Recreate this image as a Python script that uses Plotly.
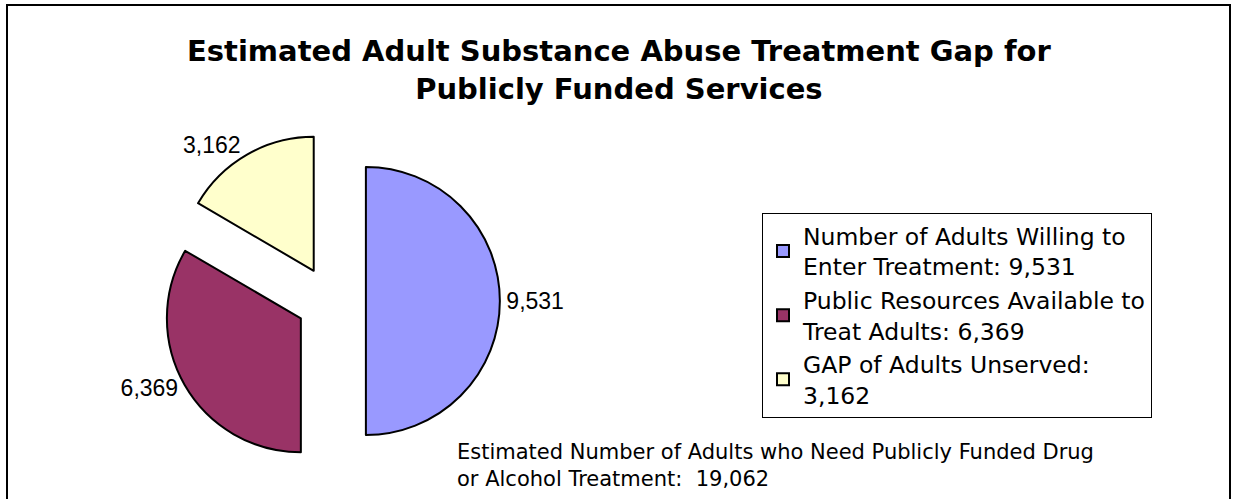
import plotly.graph_objects as go

# Treatment gap figures (adults)
categories = [
    "Number of Adults Willing to<br>Enter Treatment: 9,531",
    "Public Resources Available to<br>Treat Adults: 6,369",
    "GAP of Adults Unserved:<br>3,162",
]
values = [9531, 6369, 3162]
slice_colors = ["#9999FF", "#993366", "#FFFFCC"]
total_need = 19062

W, H = 1233, 499

fig = go.Figure(
    go.Pie(
        labels=categories,
        values=values,
        sort=False,
        direction="clockwise",
        rotation=0,
        pull=[0.26, 0.26, 0.26],
        marker=dict(colors=slice_colors, line=dict(color="black", width=2)),
        texttemplate="%{value:,}",
        textposition="outside",
        outsidetextfont=dict(family="Liberation Sans, Arial, sans-serif", size=23, color="black"),
        hoverinfo="label+value",
        domain=dict(x=[0.1316, 0.4054], y=[0.0585, 0.7351]),
    )
)

fig.update_layout(
    width=W,
    height=H,
    margin=dict(l=0, r=0, t=0, b=0, autoexpand=False),
    paper_bgcolor="white",
    plot_bgcolor="white",
    legend=dict(
        x=762 / W,
        xanchor="left",
        y=1 - 213 / H,
        yanchor="top",
        bordercolor="black",
        borderwidth=1,
        bgcolor="white",
        font=dict(family="DejaVu Sans, Arial, sans-serif", size=23.5, color="black"),
        itemsizing="constant",
    ),
    annotations=[
        # chart title
        dict(
            text="<b>Estimated Adult Substance Abuse Treatment Gap for<br>Publicly Funded Services</b>",
            xref="paper", yref="paper",
            x=619 / W, xanchor="center",
            y=1 - 70 / H, yanchor="middle",
            align="center",
            showarrow=False,
            font=dict(family="DejaVu Sans, Arial, sans-serif", size=29, color="black"),
        ),
        # footnote with the total need
        dict(
            text="Estimated Number of Adults who Need Publicly Funded Drug<br>"
                 f"or Alcohol Treatment:  {total_need:,}",
            xref="paper", yref="paper",
            x=455 / W, xanchor="left",
            y=1 - 438 / H, yanchor="top",
            align="left",
            showarrow=False,
            font=dict(family="DejaVu Sans, Tahoma, sans-serif", size=21, color="black"),
        ),
    ],
    shapes=[
        dict(
            type="rect", xref="paper", yref="paper",
            x0=7 / W, x1=1230 / W, y0=-0.05, y1=1 - 5 / H,
            line=dict(color="black", width=2),
            fillcolor="rgba(0,0,0,0)",
            layer="below",
        )
    ],
)

fig.write_html("out.html")
